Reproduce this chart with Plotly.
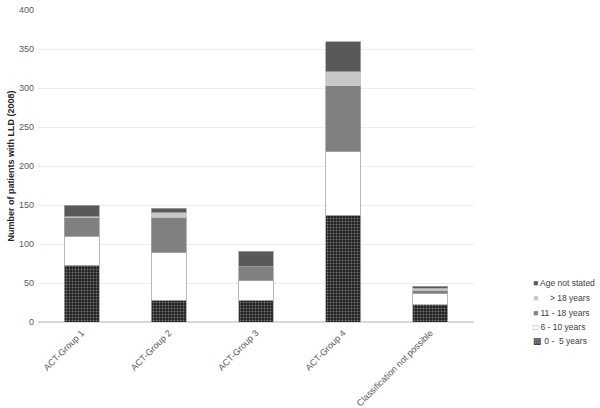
import plotly.graph_objects as go

categories = ["ACT-Group 1", "ACT-Group 2", "ACT-Group 3", "ACT-Group 4", "Classification not possible"]
age_0_5 = [73, 28, 28, 137, 22]
age_6_10 = [37, 61, 25, 81, 14]
age_11_18 = [24, 45, 18, 85, 5]
age_over_18 = [1, 6, 0, 18, 2]
age_not_stated = [15, 6, 20, 38, 3]
y_ticks = [0, 50, 100, 150, 200, 250, 300, 350, 400]

FONT = "Liberation Sans"
fig = go.Figure()
line = dict(color="#a6a6a6", width=0.8)
series = [
    ("0 -  5 years", age_0_5, dict(color="#1e1e1e", line=line,
                                   pattern=dict(shape=".", fgcolor="#d0d0d0", bgcolor="#1e1e1e",
                                                size=3, solidity=0.35)), "#1e1e1e", "▩"),
    ("6 - 10 years", age_6_10, dict(color="#ffffff", line=line), "#7f7f7f", "□"),
    ("11 - 18 years", age_11_18, dict(color="#808080", line=line), "#808080", "■"),
    ("  > 18 years", age_over_18, dict(color="#c8c8c8", line=dict(color="#c8c8c8", width=0.8)), "#c8c8c8", "■"),
    ("Age not stated", age_not_stated, dict(color="#595959", line=line), "#595959", "■"),
]
for name, vals, marker, _, _ in series:
    fig.add_bar(x=categories, y=vals, name=name, marker=marker, showlegend=False)

# compact legend drawn as annotations (top item = last series)
legend_y = [341, 327, 312.5, 298, 283]
for (name, _, _, col, sym), ly in zip(series, legend_y):
    label = name.replace("  > 18", "&nbsp;&nbsp;&nbsp;&nbsp;> 18")
    fig.add_annotation(xref="paper", yref="paper", x=(531 - 38) / 436, y=(408 - ly - 86) / 312,
                       xanchor="left", yanchor="middle", showarrow=False,
                       text=f"<span style='color:{col}'>{sym}</span> {label}",
                       font=dict(size=8.5, color="#404040", family=FONT))

fig.update_layout(
    barmode="stack", bargap=0.6,
    width=600, height=408,
    margin=dict(l=38, r=126, t=10, b=86),
    paper_bgcolor="white", plot_bgcolor="white",
    font=dict(family=FONT, size=9, color="#595959"),
)
fig.update_xaxes(tickangle=-45, showgrid=False, showline=False, ticks="", automargin=False,
                 ticklabelstandoff=3, tickfont=dict(size=9, color="#595959"))
fig.update_yaxes(range=[0, 400], tickvals=y_ticks, showgrid=True, gridcolor="#ececec",
                 gridwidth=1, zeroline=True, zerolinecolor="#d9d9d9", showline=False,
                 ticks="", automargin=False, ticklabelstandoff=3,
                 tickfont=dict(size=9, color="#595959"),
                 title=dict(text="<b>Number of patients with LLD (2008)</b>",
                            font=dict(size=9, color="#262626"), standoff=2))
fig.write_html("out.html", config={"displayModeBar": False},
               post_script="document.body.style.margin='0';")
